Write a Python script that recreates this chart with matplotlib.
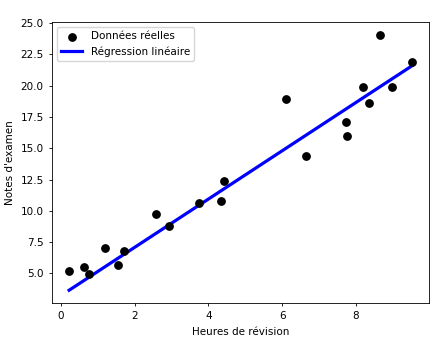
import matplotlib
matplotlib.use("Agg")
import matplotlib.pyplot as plt
import numpy as np

# Heures de révision et notes d'examen observées
heures = [0.22, 0.63, 0.75, 1.20, 1.55, 1.70, 2.59, 2.93, 3.75, 4.33,
          4.41, 6.11, 6.64, 7.74, 7.76, 8.20, 8.35, 8.66, 8.98, 9.52]
notes = [5.20, 5.53, 4.95, 7.00, 5.67, 6.76, 9.73, 8.82, 10.63, 10.82,
         12.40, 18.95, 14.40, 17.07, 15.98, 19.91, 18.58, 24.05, 19.91, 21.87]

# Coefficients de la droite de régression
pente = 1.925
ordonnee = 3.24

x_line = np.array(sorted(heures))
y_line = ordonnee + pente * x_line

fig = plt.figure(figsize=(4.47, 3.42), dpi=100)
ax = fig.add_axes([0.1163, 0.114, 0.8434, 0.8217])

ax.scatter(heures, notes, color="black", s=28, label="Données réelles", zorder=3)
ax.plot(x_line, y_line, color="blue", linewidth=2.3, label="Régression linéaire", zorder=2)

ax.set_xlabel("Heures de révision", fontsize=7.5)
ax.set_ylabel("Notes d'examen", fontsize=7.5)
ax.set_xticks([0, 2, 4, 6, 8])
ax.set_yticks([5.0, 7.5, 10.0, 12.5, 15.0, 17.5, 20.0, 22.5, 25.0])
ax.set_yticklabels(["5.0", "7.5", "10.0", "12.5", "15.0", "17.5", "20.0", "22.5", "25.0"])
ax.tick_params(labelsize=7.5, width=0.6, length=2.5)
for s in ax.spines.values():
    s.set_linewidth(0.6)

ax.legend(loc="upper left", fontsize=7.5)

fig.savefig("out.png", dpi=100)
